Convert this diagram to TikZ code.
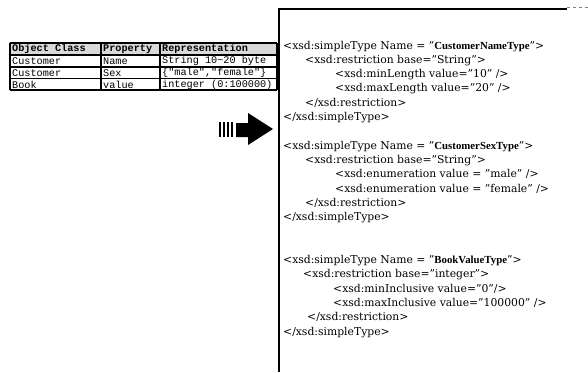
\documentclass[tikz,border=0pt]{standalone}
\usepackage{fontspec}
\setmainfont{DejaVu Serif}
\newfontfamily\tablefont{Liberation Mono}
\newfontfamily\namefont{Liberation Serif}
\newcommand{\typename}[1]{{\namefont\bfseries\fontsize{10.8}{13}\selectfont #1}}
\begin{document}
\begin{tikzpicture}[x=1pt,y=-1pt,
  code/.style={anchor=base west, inner sep=0pt, font=\fontsize{10.8}{13}\selectfont},
  cell/.style={anchor=west, inner sep=0pt, font=\tablefont\fontsize{10.2}{12}\selectfont},
  hcell/.style={cell, font=\tablefont\bfseries\fontsize{10.2}{12}\selectfont},
  grid/.style={line width=1.1pt},
  frame/.style={line width=1.4pt}]
\useasboundingbox (0,0) rectangle (588,372);
% table
\fill[gray!30] (10,43) rectangle (277,55);
\foreach \yy in {43,55,67,78.5,90} \draw[grid] (10,\yy) -- (277,\yy);
\foreach \xx in {10,101,160,277} \draw[grid] (\xx,43) -- (\xx,90);
\node[hcell] (h1) at (12,49) {Object Class};
\node[hcell] (h2) at (103,49) {Property};
\node[hcell] (h3) at (162,49) {Representation};
\node[cell] (a1) at (12,61) {Customer};
\node[cell] (a2) at (103,61) {Name};
\node[cell] (a3) at (162,61) {String 10\textasciitilde20 byte};
\node[cell] (b1) at (12,73) {Customer};
\node[cell] (b2) at (103,73) {Sex};
\node[cell] (b3) at (162,73) {\{"male","female"\}};
\node[cell] (c1) at (12,84.5) {Book};
\node[cell] (c2) at (103,84.5) {value};
\node[cell] (c3) at (162,84.5) {integer (0:100000)};
% arrow
\fill (236,123) -- (248,123) -- (248,113) -- (273,129) -- (248,145) -- (248,137) -- (236,137) -- cycle;
\foreach \xx in {219,223,227,231} \fill (\xx,122) rectangle (\xx+2.3,137);
% frame
\draw[frame] (279,372) -- (279,9) -- (567,9);
\draw[gray, dashed, line width=1pt] (567,7) -- (588,7);
% code
\node[code] (l0) at (283,49) {<xsd:simpleType Name = "\typename{CustomerNameType}">};
\node[code] (l1) at (305,63.3) {<xsd:restriction base="String">};
\node[code] (l2) at (335,77.6) {<xsd:minLength value="10" />};
\node[code] (l3) at (335,91.9) {<xsd:maxLength value="20" />};
\node[code] (l4) at (305,106.2) {</xsd:restriction>};
\node[code] (l5) at (283,120.5) {</xsd:simpleType>};
\node[code] (m0) at (283,149.1) {<xsd:simpleType Name = "\typename{CustomerSexType}">};
\node[code] (m1) at (305,163.4) {<xsd:restriction base="String">};
\node[code] (m2) at (335,177.7) {<xsd:enumeration value = "male" />};
\node[code] (m3) at (335,192) {<xsd:enumeration value = "female" />};
\node[code] (m4) at (305,206.3) {</xsd:restriction>};
\node[code] (m5) at (283,220.6) {</xsd:simpleType>};
\node[code] (n0) at (283,263.5) {<xsd:simpleType Name = "\typename{BookValueType}">};
\node[code] (n1) at (303,277.8) {<xsd:restriction base="integer">};
\node[code] (n2) at (333,292.1) {<xsd:minInclusive value="0"/>};
\node[code] (n3) at (333,306.4) {<xsd:maxInclusive value="100000" />};
\node[code] (n4) at (307,320.7) {</xsd:restriction>};
\node[code] (n5) at (283,335) {</xsd:simpleType>};
\end{tikzpicture}
\end{document}
